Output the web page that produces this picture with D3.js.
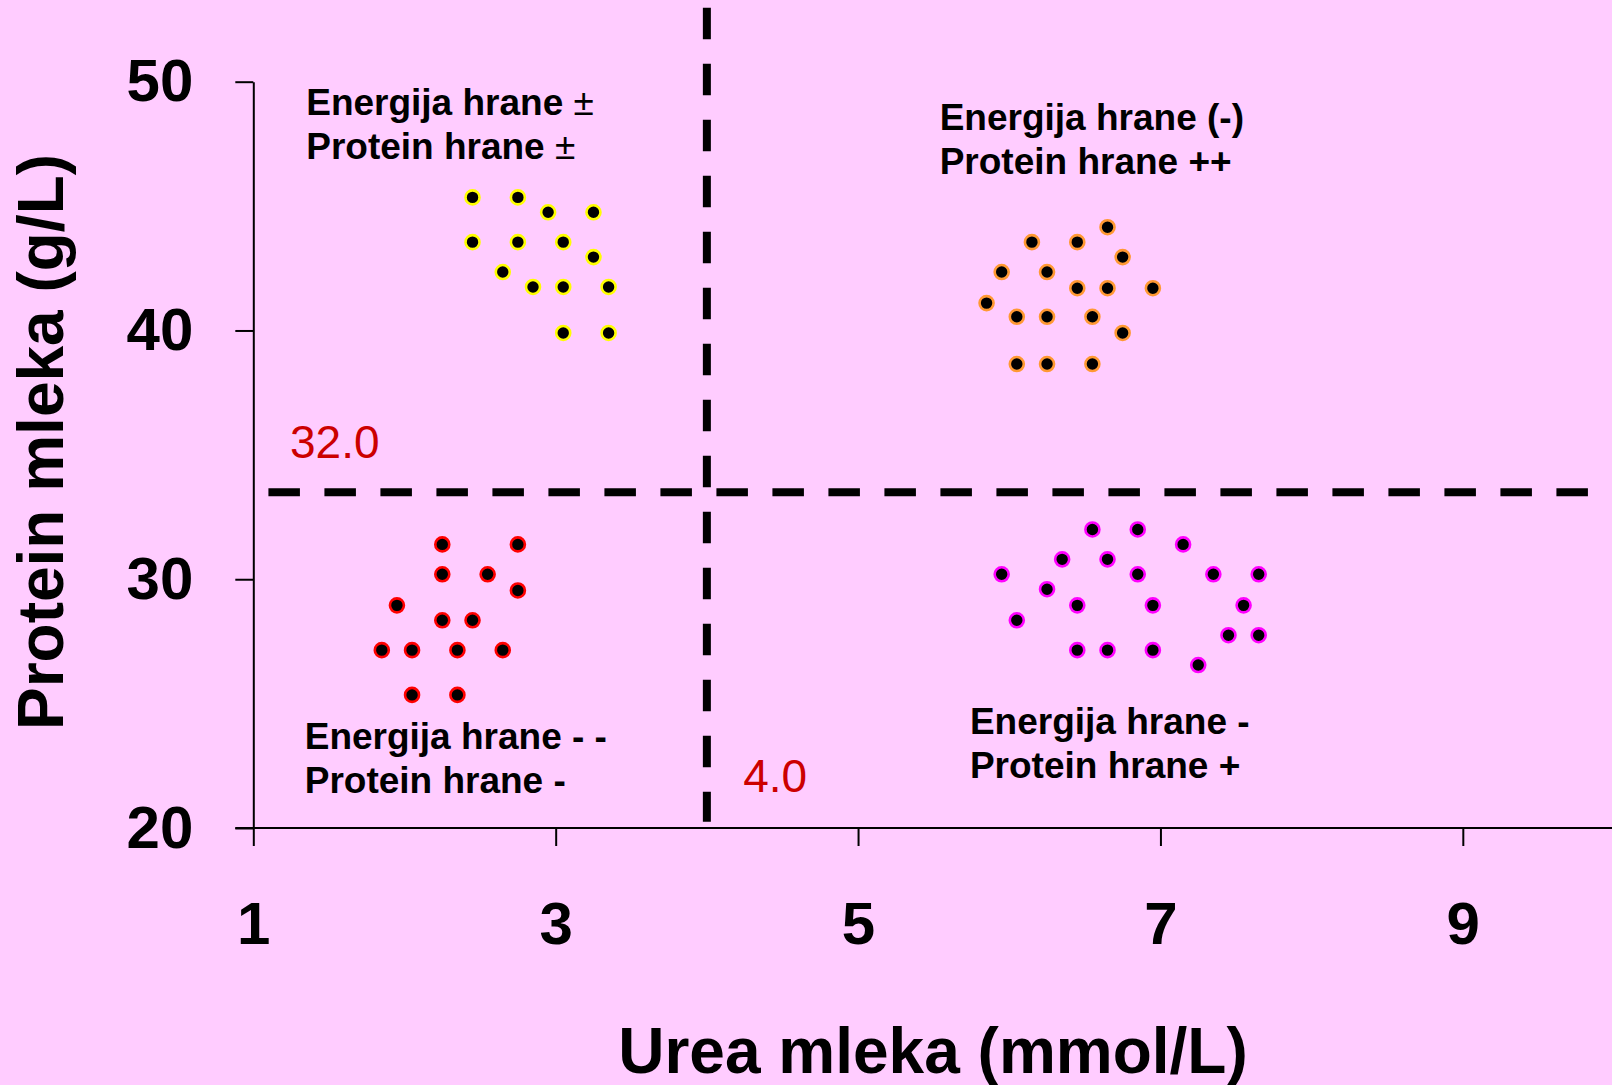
<!DOCTYPE html>
<head>
    <meta charset="utf-8">
    <script src="https://d3js.org/d3.v7.min.js"></script>
    <style>
        body { margin:0; background:#ffccff; }
        svg { display:block; }
    </style>
</head>
<body>
<div id="chart"></div>
<script>

    // ******************** Data ************************
    // urea (mmol/L) / protein (g/L) pairs, per quadrant
    var yellowPts = [
        [2.45,45.35],[2.75,45.35],[2.95,44.75],[3.25,44.75],[2.45,43.55],[2.75,43.55],[3.05,43.55],
        [3.25,42.95],[2.65,42.35],[2.85,41.75],[3.05,41.75],[3.35,41.75],[3.05,39.9],[3.35,39.9]
    ];
    var orangePts = [
        [6.65,44.15],[6.15,43.55],[6.45,43.55],[6.75,42.95],[5.95,42.35],[6.25,42.35],[6.45,41.7],
        [6.65,41.7],[6.95,41.7],[5.85,41.1],[6.05,40.55],[6.25,40.55],[6.55,40.55],[6.75,39.9],
        [6.05,38.65],[6.25,38.65],[6.55,38.65]
    ];
    var redPts = [
        [2.25,31.4],[2.75,31.4],[2.25,30.2],[2.55,30.2],[2.75,29.55],[1.95,28.95],[2.25,28.35],
        [2.45,28.35],[1.85,27.15],[2.05,27.15],[2.35,27.15],[2.65,27.15],[2.05,25.35],[2.35,25.35]
    ];
    var magentaPts = [
        [6.55,32.0],[6.85,32.0],[7.15,31.4],[6.35,30.8],[6.65,30.8],[6.85,30.2],[5.95,30.2],
        [7.35,30.2],[7.65,30.2],[6.25,29.6],[6.45,28.95],[6.95,28.95],[7.55,28.95],[6.05,28.35],
        [7.45,27.75],[7.65,27.75],[6.45,27.15],[6.65,27.15],[6.95,27.15],[7.25,26.55]
    ];

    var xTicks = [1, 3, 5, 7, 9];
    var yTicks = [20, 30, 40, 50];

    var ureaCut = 4.0, ureaLabel = "4.0";
    var proteinCut = 33.5, proteinLabel = "32.0";   // line is drawn a bit above 32 in the original

    // quadrant texts: [x, y of first baseline, line1, line2]
    var notes = [
        [1.35, 48.67, "Energija hrane ±", "Protein hrane ±"],
        [5.54, 48.06, "Energija hrane (-)", "Protein hrane ++"],
        [1.34, 23.16, "Energija hrane - -", "Protein hrane -"],
        [5.74, 23.78, "Energija hrane -", "Protein hrane +"]
    ];

    var groups = [
        { pts: yellowPts,  ring: "#ffff00" },
        { pts: orangePts,  ring: "#ff9933" },
        { pts: redPts,     ring: "#ff0000" },
        { pts: magentaPts, ring: "#ff00ff" }
    ];

    // ******************** Scales ************************
    var W = 1612, H = 1085;
    var x = d3.scaleLinear().domain([1, 10]).range([253.3, 1614]);
    var y = d3.scaleLinear().domain([20, 50]).range([828, 81.7]);

    var svg = d3.select("#chart").append("svg")
        .attr("width", W)
        .attr("height", H)
        .style("font-family", "Arial, 'Liberation Sans', sans-serif");

    svg.append("rect").attr("width", W).attr("height", H).attr("fill", "#ffccff");

    // axes
    var xAxis = svg.append("g")
        .attr("transform", "translate(0," + y(20) + ")")
        .call(d3.axisBottom(x).tickValues(xTicks).tickSize(18).tickSizeOuter(0).tickPadding(56));
    xAxis.select(".domain").attr("d", "M" + (x(1) - 18) + ",0H" + x(10));
    var yAxis = svg.append("g")
        .attr("transform", "translate(" + x(1) + ",0)")
        .call(d3.axisLeft(y).tickValues(yTicks).tickSize(18).tickSizeOuter(0).tickPadding(42));

    svg.selectAll(".domain, .tick line").attr("stroke", "#000").attr("stroke-width", 2);
    svg.selectAll(".tick text")
        .attr("fill", "#000")
        .style("font-size", "60px")
        .style("font-weight", "bold")
        .style("font-family", "Arial, 'Liberation Sans', sans-serif");
    xAxis.selectAll(".tick text").attr("dy", null).attr("y", 116);
    yAxis.selectAll(".tick text").attr("dy", null).attr("y", 19);

    // axis titles
    svg.append("text")
        .attr("x", 933).attr("y", 1073)
        .attr("text-anchor", "middle")
        .style("font-size", "64px").style("font-weight", "bold")
        .text("Urea mleka (mmol/L)");
    svg.append("text")
        .attr("transform", "translate(63," + 442 + ") rotate(-90)")
        .attr("text-anchor", "middle")
        .style("font-size", "64px").style("font-weight", "bold")
        .text("Protein mleka (g/L)");

    // threshold lines
    svg.append("line")
        .attr("x1", x(ureaCut)).attr("x2", x(ureaCut))
        .attr("y1", y(52.97)).attr("y2", y(20.25))
        .attr("stroke", "#000").attr("stroke-width", 8)
        .attr("stroke-dasharray", "31.5,24.5");
    svg.append("line")
        .attr("x1", x(1.1)).attr("x2", x(10))
        .attr("y1", y(proteinCut)).attr("y2", y(proteinCut))
        .attr("stroke", "#000").attr("stroke-width", 8)
        .attr("stroke-dasharray", "31.5,24.5");

    svg.append("text")
        .attr("x", x(1.243)).attr("y", y(34.88))
        .attr("fill", "#cc0000").style("font-size", "46px")
        .text(proteinLabel);
    svg.append("text")
        .attr("x", x(4.24)).attr("y", y(21.46))
        .attr("fill", "#cc0000").style("font-size", "46px")
        .text(ureaLabel);

    // quadrant notes
    notes.forEach(function (n) {
        [n[2], n[3]].forEach(function (line, i) {
            var t = svg.append("text")
                .attr("x", x(n[0]))
                .attr("y", y(n[1]) + i * 44)
                .style("font-size", "37px").style("font-weight", "bold");
            var pm = line.indexOf("±");
            if (pm >= 0) {
                t.append("tspan").text(line.slice(0, pm));
                t.append("tspan").style("font-weight", "normal").text("±");
            } else {
                t.text(line);
            }
        });
    });

    // points
    groups.forEach(function (g) {
        svg.append("g").selectAll("circle")
            .data(g.pts)
            .enter()
            .append("circle")
            .attr("cx", function (d) { return x(d[0]); })
            .attr("cy", function (d) { return y(d[1]); })
            .attr("r", 7)
            .attr("fill", "#000")
            .attr("stroke", g.ring)
            .attr("stroke-width", 2.6);
    });

</script>
</body>
